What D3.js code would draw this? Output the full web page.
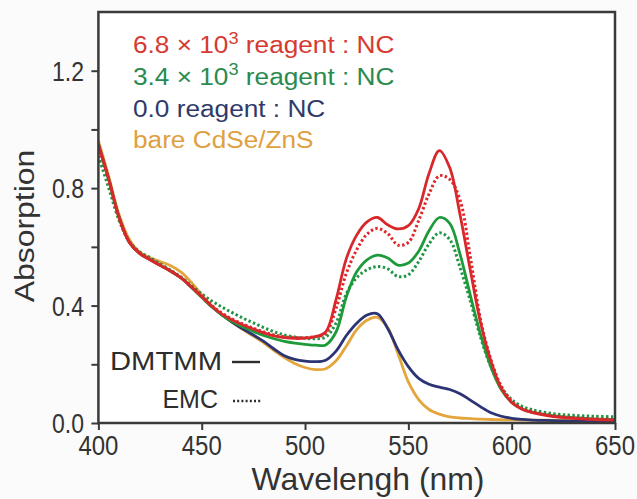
<!DOCTYPE html>
<html>
<head>
<meta charset="utf-8">
<script src="https://cdn.jsdelivr.net/npm/d3@7"></script>
<style>
  body { margin: 0; background: #fbfbfb; }
  svg { display: block; font-family: "Liberation Sans", Arial, sans-serif; }
</style>
</head>
<body>
<svg id="chart" width="637" height="499"></svg>
<script>
// wavelength grid (nm)
const wavelength = [400,405,410,415,420,425,430,435,440,445,450,455,460,465,470,475,480,485,490,495,500,505,510,515,520,525,530,535,540,545,550,555,560,565,570,575,580,585,590,595,600,605,610,620,630,640,650];

// 6.8e3 reagent : NC
const red68Dmtmm = [0.947,0.83,0.70,0.615,0.577,0.556,0.536,0.517,0.494,0.463,0.43,0.397,0.37,0.35,0.334,0.32,0.307,0.297,0.291,0.288,0.289,0.294,0.31,0.42,0.56,0.64,0.685,0.70,0.675,0.661,0.672,0.73,0.85,0.928,0.87,0.71,0.52,0.34,0.21,0.118,0.07,0.047,0.035,0.022,0.016,0.012,0.010];
const red68Emc = [0.945,0.83,0.70,0.617,0.58,0.558,0.538,0.518,0.495,0.465,0.433,0.40,0.373,0.353,0.337,0.323,0.31,0.30,0.294,0.291,0.291,0.294,0.305,0.39,0.51,0.59,0.643,0.663,0.645,0.606,0.615,0.69,0.78,0.842,0.83,0.76,0.565,0.35,0.215,0.125,0.075,0.05,0.038,0.025,0.018,0.014,0.012];
// 3.4e3 reagent : NC
const green34Dmtmm = [0.945,0.83,0.70,0.615,0.578,0.557,0.537,0.517,0.494,0.462,0.428,0.395,0.367,0.345,0.327,0.312,0.298,0.287,0.278,0.272,0.268,0.265,0.266,0.31,0.43,0.515,0.556,0.572,0.562,0.538,0.545,0.585,0.655,0.70,0.68,0.575,0.435,0.30,0.19,0.113,0.07,0.048,0.037,0.025,0.018,0.014,0.012];
const green34Emc = [0.91,0.80,0.69,0.617,0.583,0.563,0.542,0.52,0.497,0.468,0.44,0.415,0.394,0.375,0.357,0.341,0.325,0.311,0.30,0.293,0.289,0.287,0.293,0.34,0.44,0.495,0.522,0.533,0.525,0.499,0.505,0.55,0.61,0.648,0.625,0.53,0.415,0.29,0.19,0.12,0.08,0.057,0.045,0.032,0.026,0.023,0.021];
// 0.0 reagent : NC
const navy00 = [0.95,0.83,0.70,0.615,0.578,0.557,0.537,0.518,0.495,0.463,0.43,0.396,0.367,0.342,0.32,0.30,0.278,0.252,0.229,0.217,0.211,0.209,0.214,0.245,0.298,0.34,0.368,0.372,0.322,0.25,0.192,0.152,0.132,0.122,0.114,0.10,0.078,0.055,0.035,0.023,0.016,0.012,0.01,0.008,0.006,0.005,0.005];
// bare CdSe/ZnS
const bareQd = [0.962,0.84,0.71,0.625,0.582,0.563,0.549,0.536,0.514,0.479,0.437,0.398,0.367,0.342,0.318,0.296,0.273,0.247,0.223,0.203,0.189,0.182,0.185,0.212,0.262,0.318,0.35,0.36,0.325,0.236,0.14,0.08,0.046,0.03,0.021,0.017,0.015,0.013,0.012,0.011,0.011,0.01,0.01,0.009,0.008,0.008,0.008];

const xTicks = [400, 450, 500, 550, 600, 650];
const yTicks = [0.0, 0.4, 0.8, 1.2];
const yMinorTicks = [0.2, 0.6, 1.0];

const legendRows = [
  { pre: "6.8 \u00d7 10", sup: "3", post: " reagent : NC", color: "#d63a31" },
  { pre: "3.4 \u00d7 10", sup: "3", post: " reagent : NC", color: "#2a8a4f" },
  { pre: "0.0 reagent : NC", sup: "", post: "", color: "#2f3a6b" },
  { pre: "bare CdSe/ZnS", sup: "", post: "", color: "#e0a040" },
];

const series = [
  { values: bareQd, color: "#e3a53c", dotted: false },
  { values: navy00, color: "#2c3473", dotted: false },
  { values: green34Emc, color: "#1f9445", dotted: true },
  { values: green34Dmtmm, color: "#1f9a3a", dotted: false },
  { values: red68Emc, color: "#e0262a", dotted: true },
  { values: red68Dmtmm, color: "#d8282b", dotted: false },
];

const margin = { top: 12, right: 22, bottom: 76, left: 98.4 };
const W = 637, H = 499;
const axisColor = "#3a3a3a";

const x = d3.scaleLinear().domain([400, 650]).range([margin.left, W - margin.right]);
const y = d3.scaleLinear().domain([0, 1.4]).range([H - margin.bottom, margin.top]);

const svg = d3.select("#chart");

svg.append("rect")
  .attr("x", x(400)).attr("y", y(1.4))
  .attr("width", x(650) - x(400)).attr("height", y(0) - y(1.4))
  .attr("fill", "#ffffff");

svg.append("clipPath").attr("id", "plotClip")
  .append("rect")
  .attr("x", x(400)).attr("y", y(1.4))
  .attr("width", x(650) - x(400)).attr("height", y(0) - y(1.4));

const line = d3.line()
  .x((d, i) => x(wavelength[i]))
  .y((d) => y(d))
  .curve(d3.curveCatmullRom.alpha(0.5));

svg.append("g").attr("clip-path", "url(#plotClip)")
  .selectAll("path")
  .data(series)
  .join("path")
  .attr("fill", "none")
  .attr("stroke", (d) => d.color)
  .attr("stroke-width", (d) => (d.dotted ? 3 : 2.8))
  .attr("stroke-dasharray", (d) => (d.dotted ? "2.4,2.4" : null))
  .attr("d", (d) => line(d.values));

// axes
const xAxis = svg.append("g")
  .attr("transform", `translate(0,${y(0)})`)
  .call(d3.axisBottom(x).tickValues(xTicks).tickSize(7).tickFormat(""));
const yAxis = svg.append("g")
  .attr("transform", `translate(${x(400)},0)`)
  .call(d3.axisLeft(y).tickValues(yTicks.concat(yMinorTicks)).tickSize(7).tickFormat(""));

[xAxis, yAxis].forEach((a) => {
  a.select(".domain").remove();
  a.selectAll("line").attr("stroke", axisColor).attr("stroke-width", 2);
});

// frame
svg.append("rect")
  .attr("x", x(400)).attr("y", y(1.4))
  .attr("width", x(650) - x(400)).attr("height", y(0) - y(1.4))
  .attr("fill", "none").attr("stroke", axisColor).attr("stroke-width", 2.5);

// tick labels
svg.append("g").selectAll("text")
  .data(xTicks)
  .join("text")
  .attr("transform", (d) => `translate(${x(d)},455) scale(1,1.12)`)
  .attr("text-anchor", "middle")
  .attr("font-size", 24)
  .attr("fill", "#333")
  .text((d) => d);

svg.append("g").selectAll("text")
  .data(yTicks)
  .join("text")
  .attr("transform", (d) => `translate(84,${y(d) + 10}) scale(1,1.17)`)
  .attr("text-anchor", "end")
  .attr("font-size", 23)
  .attr("fill", "#333")
  .text((d) => d.toFixed(1));

// axis titles
svg.append("text")
  .attr("transform", "translate(368,490) scale(1.03,1.04)")
  .attr("text-anchor", "middle")
  .attr("font-size", 31)
  .attr("fill", "#333")
  .text("Wavelengh (nm)");

svg.append("text")
  .attr("transform", "translate(34,226) rotate(-90) scale(1.14,1)")
  .attr("text-anchor", "middle")
  .attr("font-size", 28)
  .attr("fill", "#333")
  .text("Absorption");

// series legend
legendRows.forEach((r, i) => {
  const t = svg.append("text")
    .attr("transform", `translate(133,${53 + i * 31.8}) scale(1.14,1.04)`)
    .attr("font-size", 23)
    .attr("fill", r.color);
  t.append("tspan").text(r.pre);
  if (r.sup) {
    t.append("tspan").attr("font-size", 16).attr("dy", -9).text(r.sup);
    t.append("tspan").attr("dy", 9).text(r.post);
  }
});

// method legend
svg.append("text")
  .attr("x", 110).attr("y", 370)
  .attr("font-size", 25).attr("fill", "#2d2d2d")
  .attr("textLength", 112).attr("lengthAdjust", "spacingAndGlyphs")
  .text("DMTMM");
svg.append("line")
  .attr("x1", 232).attr("x2", 260).attr("y1", 362).attr("y2", 362)
  .attr("stroke", "#2d2d2d").attr("stroke-width", 2.4);
svg.append("text")
  .attr("x", 218).attr("y", 408)
  .attr("text-anchor", "end")
  .attr("font-size", 25).attr("fill", "#2d2d2d")
  .text("EMC");
svg.append("line")
  .attr("x1", 233).attr("x2", 261).attr("y1", 401).attr("y2", 401)
  .attr("stroke", "#2d2d2d").attr("stroke-width", 2.6)
  .attr("stroke-dasharray", "2,2.2");
</script>
</body>
</html>
